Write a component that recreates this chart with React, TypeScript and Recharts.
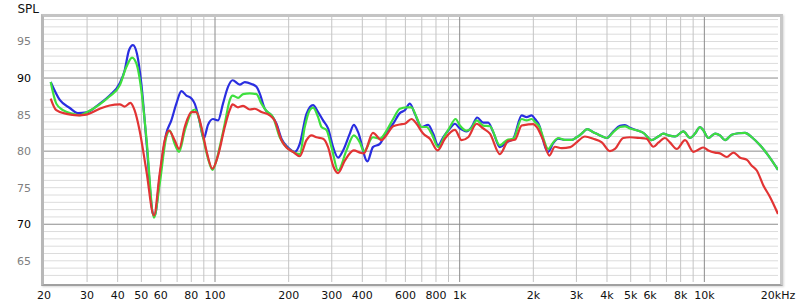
import React from 'react';
import { LineChart, Line, XAxis, YAxis, CartesianGrid } from 'recharts';

const FREQ_TICKS = [20, 30, 40, 50, 60, 80, 100, 200, 300, 400, 600, 800, 1000, 2000, 3000, 4000, 5000, 6000, 8000, 10000, 20000];
const Y_TICKS = [65, 70, 75, 80, 85, 90, 95];
const V_GRID_MINOR = [30, 40, 50, 60, 70, 80, 90, 200, 300, 400, 500, 600, 700, 800, 900, 2000, 3000, 4000, 5000, 6000, 7000, 8000, 9000];
const V_GRID_MAJOR = [100, 1000, 10000];
const H_GRID_MINOR = [63, 64, 65, 66, 67, 68, 69, 71, 72, 73, 74, 75, 76, 77, 78, 79, 81, 82, 83, 84, 85, 86, 87, 88, 89, 91, 92, 93, 94, 95, 96, 97, 98];
const H_GRID_MAJOR = [70, 80, 90];
const DARK_Y_LABELS = [70, 90];

const blueSeries: [number, number][] = [
  [21.3, 89.45], [23.2, 87.0], [25.5, 85.9], [27.5, 85.2], [29.8, 85.3], [33.8, 86.5], [37.1, 87.6], [40.8, 89.3],
  [42.7, 91.0], [44.5, 93.8], [46.2, 94.5], [48, 93.3], [50, 89.2], [52.4, 81.5], [55.8, 71.4], [56.7, 71.2],
  [59.4, 76.4], [63.2, 82.4], [66.3, 84.2], [69.5, 86.5], [72.9, 88.2], [76.4, 87.6], [80.1, 87.2], [82.6, 86.5],
  [86.6, 84.0], [89.9, 81.7], [93.6, 83.6], [98.1, 84.4], [102.9, 84.2], [107.8, 86.5], [113, 88.8], [118, 89.7],
  [126.2, 89.1], [132.3, 89.45], [140.9, 89.2], [147.7, 88.8], [152.3, 87.9], [159.7, 85.8], [170.1, 84.9],
  [178.3, 83.75], [186.9, 81.7], [198.9, 80.5], [211.8, 79.9], [222, 81.0], [236.5, 85.1], [251.6, 86.3],
  [263.8, 85.35], [276.5, 84.2], [289.8, 83.1], [303.8, 80.55], [318.5, 79.1], [333.8, 80.1], [355.6, 82.4],
  [369.2, 83.6], [384.5, 82.6], [419.6, 78.6], [441.9, 80.55], [471.6, 81.0], [502.5, 82.6], [534.6, 83.75],
  [569.4, 85.2], [596.8, 85.6], [625.7, 86.5], [655.8, 85.1], [698.4, 83.3], [743.3, 83.6], [779, 82.4],
  [816.6, 80.8], [855.9, 81.9], [912, 83.1], [955.8, 83.75], [1002, 83.1], [1067, 82.7], [1119, 83.3],
  [1179, 84.6], [1248, 83.9], [1308, 83.9], [1371, 82.6], [1460, 80.55], [1557, 81.2], [1655, 81.7],
  [1792, 84.9], [1877, 84.65], [1969, 84.9], [2031, 84.4], [2128, 83.3], [2163, 82.3], [2301, 79.9],
  [2412, 81.1], [2529, 81.7], [2693, 81.55], [2869, 81.55], [3006, 81.9], [3151, 82.4], [3322, 83.0],
  [3516, 82.6], [3744, 82.15], [3991, 81.8], [4245, 82.7], [4520, 83.45], [4738, 83.55], [4967, 83.2],
  [5290, 82.85], [5631, 82.5], [6094, 81.5], [6483, 82.0], [6797, 82.4], [7125, 82.15], [7590, 82.0],
  [8205, 82.7], [8740, 81.8], [9162, 82.4], [9603, 83.3], [9906, 82.85], [10385, 81.8], [11060, 82.4],
  [11590, 82.15], [12150, 81.5], [12945, 82.25], [13775, 82.45], [14670, 82.5], [15630, 81.9], [16900, 80.8],
  [18270, 79.4], [20000, 77.45],
];

const greenSeries: [number, number][] = [
  [21.3, 89.45], [22.45, 86.5], [23.9, 85.6], [26.3, 85.1], [28, 84.9], [29.8, 85.3], [33.8, 86.4], [37.1, 87.5],
  [40.8, 89.0], [43.4, 91.5], [45.8, 92.8], [47.7, 92.0], [50, 88.3], [52.4, 81.9], [56.3, 70.9], [59.4, 75.5],
  [63.2, 81.9], [65.3, 82.8], [68.4, 81.0], [71.3, 79.9], [75.2, 82.8], [80.1, 85.35], [82.6, 85.7], [85.2, 84.9],
  [89.3, 81.9], [93.6, 79.0], [97.6, 77.45], [101.3, 78.7], [104.5, 80.55], [109.6, 83.75], [114.8, 86.95],
  [118, 87.6], [124.2, 87.3], [130.2, 87.8], [138.7, 87.9], [147.7, 87.8], [154.8, 86.5], [162.3, 85.5],
  [172.7, 84.65], [183.9, 81.9], [195.9, 80.55], [208.4, 79.9], [222, 79.6], [232.7, 83.3], [243.9, 85.6],
  [251.6, 85.95], [263.8, 84.65], [272.4, 83.3], [285.5, 82.9], [299.3, 80.55], [318.5, 77.35], [344.6, 80.1],
  [369.2, 82.15], [390.7, 81.2], [406, 80.0], [441.9, 81.9], [471.6, 81.7], [502.5, 82.8], [534.6, 84.4],
  [569.4, 85.8], [606.5, 86.0], [635.7, 86.0], [666.3, 84.65], [698.4, 83.3], [732, 83.3], [767.4, 82.4],
  [816.6, 80.55], [870, 82.15], [912, 83.3], [962, 84.4], [1002, 83.5], [1067, 82.8], [1121, 83.2], [1173, 84.2],
  [1248, 83.5], [1329, 83.4], [1460, 80.8], [1557, 81.5], [1657, 81.7], [1792, 84.4], [1877, 84.2], [1969, 84.4],
  [2031, 84.0], [2128, 83.2], [2163, 82.5], [2301, 80.3], [2412, 81.2], [2529, 81.8], [2693, 81.55],
  [2869, 81.55], [3006, 81.9], [3151, 82.4], [3322, 83.0], [3516, 82.6], [3744, 82.15], [3991, 81.8],
  [4245, 82.6], [4520, 83.3], [4738, 83.4], [4967, 83.1], [5290, 82.85], [5631, 82.5], [6094, 81.5],
  [6483, 82.0], [6797, 82.4], [7125, 82.15], [7590, 82.0], [8205, 82.7], [8740, 81.8], [9162, 82.4],
  [9603, 83.3], [9906, 82.85], [10385, 81.8], [11060, 82.4], [11590, 82.15], [12150, 81.5], [12945, 82.25],
  [13775, 82.45], [14670, 82.5], [15630, 81.9], [16900, 80.8], [18270, 79.4], [20000, 77.45],
];

const redSeries: [number, number][] = [
  [21.3, 87.2], [22.45, 85.6], [24.7, 85.1], [27.5, 84.9], [29.8, 85.0], [33.8, 85.8], [37.1, 86.25], [40.8, 86.4],
  [42.7, 86.1], [45.1, 86.6], [46.9, 85.6], [49.2, 82.8], [52.4, 77.35], [56.3, 71.2], [59.4, 76.9], [62.3, 81.5],
  [64.8, 82.8], [68.4, 81.5], [71.3, 80.3], [75.2, 83.3], [80.1, 85.35], [83.9, 85.35], [88.0, 83.3], [92.2, 80.1],
  [97.6, 77.6], [102.9, 79.4], [109.6, 83.3], [114.8, 85.6], [118, 86.4], [124.2, 86.0], [130.2, 86.2],
  [138.7, 85.7], [145.4, 85.8], [154.8, 85.35], [167.4, 84.9], [175.4, 84.2], [186.9, 81.5], [195.9, 80.5],
  [208.4, 79.9], [222, 79.3], [236.5, 81.5], [248, 82.15], [259.8, 81.9], [276.5, 81.7], [289.8, 80.55],
  [303.8, 78.0], [318.5, 77.0], [339.2, 78.7], [369.2, 80.1], [390.7, 79.8], [406, 79.7], [441.9, 82.5],
  [479.3, 81.5], [502.5, 82.2], [534.6, 83.4], [569.4, 83.65], [596.8, 83.75], [635.7, 84.4], [666.3, 83.75],
  [708.9, 82.4], [755.2, 81.7], [812.3, 80.1], [870, 81.7], [955.8, 82.9], [1018, 81.5], [1083, 81.9],
  [1173, 83.75], [1248, 83.1], [1329, 82.4], [1460, 79.6], [1579, 81.4], [1682, 81.55], [1792, 83.5],
  [1906, 83.65], [1998, 83.7], [2066, 83.3], [2194, 81.5], [2325, 79.4], [2450, 80.6], [2610, 80.4],
  [2833, 80.55], [3006, 81.2], [3250, 82.0], [3516, 81.7], [3810, 81.2], [4110, 80.0], [4310, 80.3],
  [4660, 81.8], [4967, 81.9], [5450, 81.8], [5800, 81.7], [6190, 80.6], [6483, 81.15], [6900, 81.8],
  [7230, 81.2], [7710, 80.3], [8340, 81.5], [9020, 79.9], [9450, 80.2], [9906, 80.5], [10385, 80.1],
  [11060, 79.8], [11590, 79.7], [12350, 79.2], [13140, 79.8], [14010, 79.1], [14930, 78.8], [15630, 78.0],
  [16380, 77.35], [17430, 75.3], [18570, 73.7], [20000, 71.4],
];

const toRows = (s: [number, number][]) => s.map(([f, v]) => ({ f, v }));

const fmtFreq = (f: number) => {
  if (f === 20000) return '20kHz';
  if (f >= 1000) return `${f / 1000}k`;
  return `${f}`;
};

const FONT = '"DejaVu Sans", Verdana, sans-serif';

const YTick = (props: any) => {
  const { x, y, payload } = props;
  const v = payload.value;
  const dark = DARK_Y_LABELS.includes(v);
  return (
    <text x={x - 5} y={y + 4} textAnchor="end" fontSize={11} fontFamily={FONT} fill={dark ? '#000' : '#808080'}>
      {v}
    </text>
  );
};

export default function App() {
  return (
    <div style={{ position: 'absolute', left: 0, top: 0, width: 800, height: 307, background: '#fff' }}>
      <div
        style={{
          position: 'absolute',
          left: 41,
          top: 14,
          width: 736,
          height: 267,
          borderTop: '3px solid #c4c4c4',
          borderLeft: '3px solid #b8b8b8',
          borderRight: '3px solid #c8c8c8',
          borderBottom: '2px solid #a0a0a0',
          boxShadow: '1px 1px 2px #d8d8d8',
        }}
      />
      <div style={{ position: 'absolute', left: 0, top: 0 }}>
        <LineChart width={800} height={307} margin={{ top: 17, right: 22, bottom: 0, left: 0 }}>
          <CartesianGrid horizontalValues={H_GRID_MINOR} vertical={false} stroke="#dcdcdc" strokeWidth={1} />
          <CartesianGrid verticalValues={V_GRID_MINOR} horizontal={false} stroke="#c4c4c4" strokeWidth={1} />
          <CartesianGrid horizontalValues={H_GRID_MAJOR} verticalValues={V_GRID_MAJOR} stroke="#8c8c8c" strokeWidth={1} />
          <XAxis
            dataKey="f"
            type="number"
            scale="log"
            domain={[20, 20000]}
            allowDataOverflow
            ticks={FREQ_TICKS}
            tickFormatter={fmtFreq}
            interval={0}
            height={25}
            tickSize={0}
            tickMargin={9}
            axisLine={false}
            tickLine={false}
            tick={{ fontSize: 11, fontFamily: FONT, fill: '#111' }}
          />
          <YAxis
            type="number"
            domain={[62.1, 98.35]}
            allowDataOverflow
            ticks={Y_TICKS}
            interval={0}
            width={44}
            axisLine={false}
            tickLine={false}
            tick={<YTick />}
            label={{
              content: () => (
                <text x={39} y={13} textAnchor="end" fontSize={12} fontFamily={FONT} fill="#111">
                  SPL
                </text>
              ),
            }}
          />
          <Line data={toRows(blueSeries)} dataKey="v" type="monotone" stroke="#2a2ee0" strokeWidth={2.2} dot={false} isAnimationActive={false} />
          <Line data={toRows(greenSeries)} dataKey="v" type="monotone" stroke="#3ee03e" strokeWidth={2.2} dot={false} isAnimationActive={false} />
          <Line data={toRows(redSeries)} dataKey="v" type="monotone" stroke="#e23434" strokeWidth={2.2} dot={false} isAnimationActive={false} />
        </LineChart>
      </div>
    </div>
  );
}
